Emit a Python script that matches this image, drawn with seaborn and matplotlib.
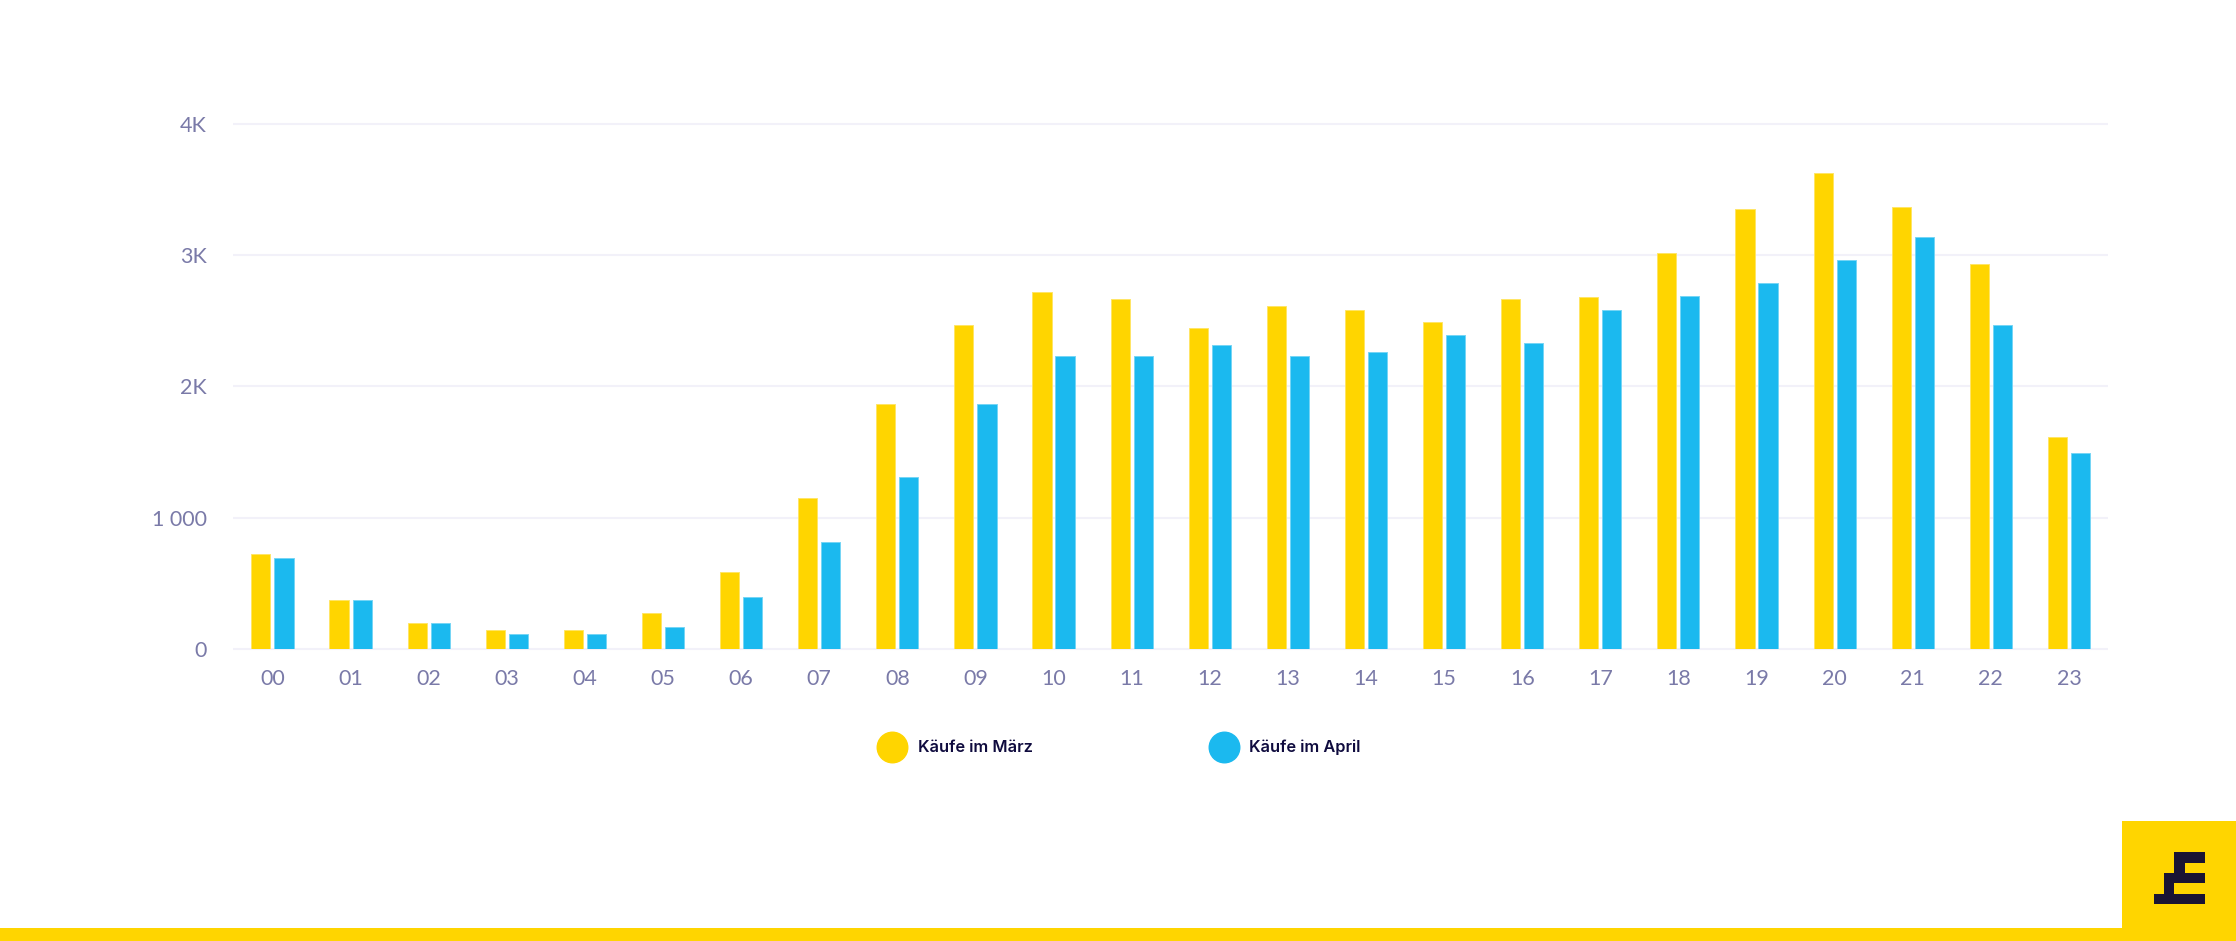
import matplotlib
matplotlib.use('Agg')
import matplotlib.pyplot as plt
from matplotlib.lines import Line2D
from matplotlib.patches import Polygon, Rectangle
import pandas as pd
import seaborn as sns

hours = ['%02d' % h for h in range(24)]
maerz = [720, 370, 195, 145, 145, 277, 586, 1153, 1868, 2463, 2716, 2663,
         2447, 2610, 2582, 2488, 2663, 2678, 3013, 3353, 3623, 3364, 2932, 1612]
april = [695, 370, 195, 115, 115, 170, 398, 817, 1313, 1868, 2232, 2232,
         2312, 2232, 2260, 2394, 2328, 2582, 2691, 2785, 2960, 3138, 2463, 1490]
series_names = ['Käufe im März', 'Käufe im April']
y_ticks = [0, 1000, 2000, 3000, 4000]
y_labels = ['0', '1 000', '2K', '3K', '4K']

YELLOW = '#ffd500'
BLUE = '#1bb9ef'
EDGES = ['#ffe566', '#76d5f5']
GRID = '#f2f1f9'
TICK = '#7a7aa8'
DARK = '#1a1433'

W, H = 2236, 941

sns.set_theme(style='white')
plt.rcParams['font.family'] = ['Lato', 'DejaVu Sans']

df = pd.DataFrame({
    'hour': hours * 2,
    'value': maerz + april,
    'series': [series_names[0]] * 24 + [series_names[1]] * 24,
})

fig = plt.figure(figsize=(W / 100, H / 100), dpi=100)
ax = fig.add_axes([233.4 / W, 1 - 649 / H, (2108 - 233.4) / W, (649 - 123.6) / H])

sns.barplot(data=df, x='hour', y='value', hue='series', palette=[YELLOW, BLUE],
            width=0.59, gap=0.17, saturation=1, legend=False, ax=ax, zorder=3)
# the bars have a thin pale rim in the original
for bars, edge in zip(ax.containers, EDGES):
    for bar in bars:
        bar.set_edgecolor(edge)
        bar.set_linewidth(0.7)

ax.set_xlim(-0.5, 23.5)
ax.set_ylim(0, 4000)
ax.set_xlabel('')
ax.set_ylabel('')
ax.set_yticks(y_ticks)
ax.set_yticklabels(y_labels)
ax.tick_params(axis='both', length=0, labelcolor=TICK, labelsize=15.5)
ax.tick_params(axis='x', pad=14.3)
ax.tick_params(axis='y', pad=19)
ax.grid(axis='y', color=GRID, linewidth=1.5, zorder=0, clip_on=False, solid_capstyle='butt')
ax.set_axisbelow(True)
for s in ax.spines.values():
    s.set_visible(False)

handles = [Line2D([], [], linestyle='', marker='o', markersize=22, color=c)
           for c in [YELLOW, BLUE]]
leg = fig.legend(handles, series_names, ncol=2, frameon=False,
                 loc='center left', bbox_to_anchor=(877 / W, 1 - 747.5 / H),
                 borderaxespad=0, borderpad=0, handletextpad=0.62, columnspacing=10.72,
                 handlelength=1.86, prop={'family': 'Inter', 'size': 11.8, 'weight': 'semibold'},
                 labelcolor='#0f0b3e')

# footer band and logo
fig.add_artist(Rectangle((0, 0), 1, 13 / H, transform=fig.transFigure, color=YELLOW, lw=0))
fig.add_artist(Rectangle((2122 / W, 0), 114 / W, 120 / H, transform=fig.transFigure, color=YELLOW, lw=0))
logo = [(283, 187), (374, 187), (374, 218), (314, 218), (314, 250), (374, 250),
        (374, 279), (283, 279), (283, 311), (374, 311), (374, 341), (221, 341),
        (221, 311), (252, 311), (252, 250), (283, 250)]
logo_xy = [((2080 + x / 3) / W, 1 - (790 + y / 3) / H) for x, y in logo]
fig.add_artist(Polygon(logo_xy, closed=True, transform=fig.transFigure, color=DARK, lw=0))

fig.savefig('out.png', dpi=100, facecolor='white')
